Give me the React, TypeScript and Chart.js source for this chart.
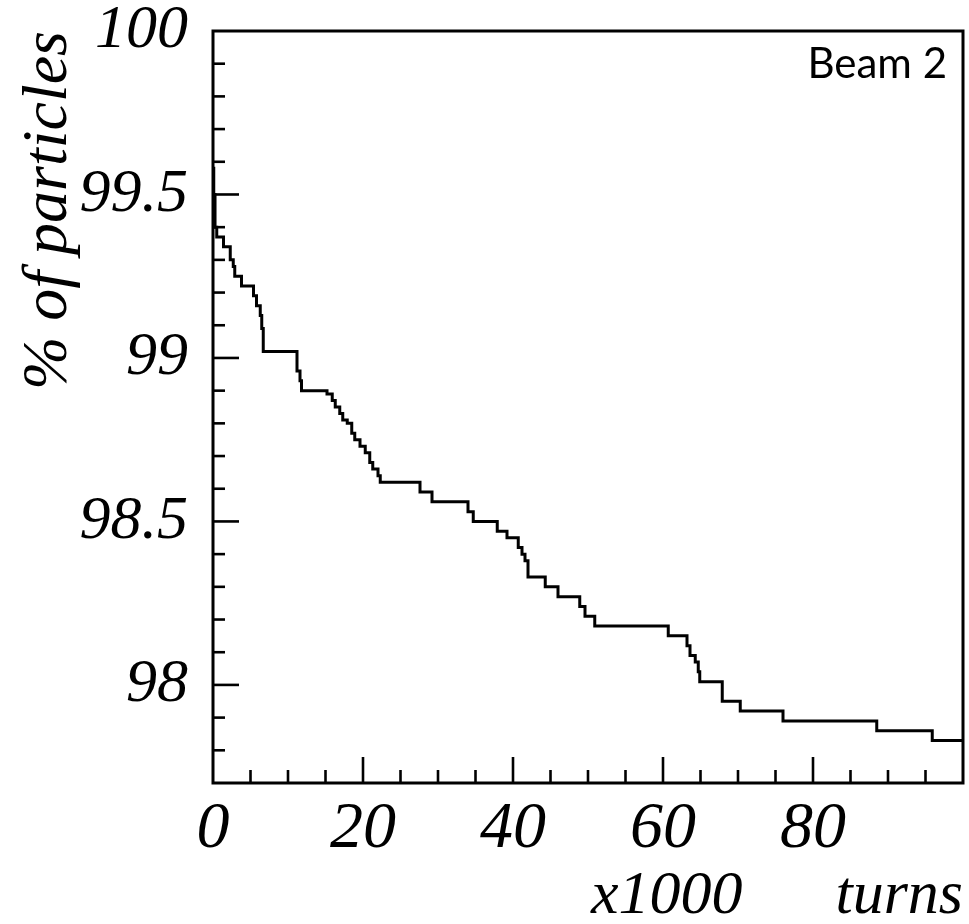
import React, { useEffect, useRef } from "react";
import { Chart, registerables } from "chart.js";

Chart.register(...registerables);

// Turns (x1000) at which the surviving fraction changes
const turnsK = [0, 0.1, 0.27, 0.5, 1.4, 2.3, 2.7, 2.9, 3.8, 5.4, 5.8, 6.3, 6.5, 6.7, 11.2, 11.6, 11.8, 15.2, 15.9, 16.3, 16.9, 17.3, 17.9, 18.5, 18.9, 19.6, 20.3, 20.9, 21.3, 22.0, 22.3, 27.6, 29.2, 34.0, 34.7, 37.9, 39.2, 40.7, 41.2, 41.6, 42.0, 44.3, 46.0, 48.9, 49.6, 50.9, 60.7, 63.2, 63.6, 64.3, 64.7, 64.9, 67.9, 70.3, 76.0, 88.5, 95.9, 100];
// % of particles remaining
const percent = [99.58, 99.5, 99.4, 99.37, 99.34, 99.3, 99.28, 99.25, 99.22, 99.19, 99.16, 99.13, 99.09, 99.02, 98.96, 98.93, 98.9, 98.89, 98.87, 98.85, 98.83, 98.81, 98.8, 98.77, 98.75, 98.73, 98.71, 98.68, 98.66, 98.64, 98.62, 98.59, 98.56, 98.53, 98.5, 98.47, 98.45, 98.42, 98.4, 98.38, 98.33, 98.3, 98.27, 98.24, 98.21, 98.18, 98.15, 98.12, 98.09, 98.07, 98.04, 98.01, 97.95, 97.92, 97.89, 97.86, 97.83, 97.83];

const xTickValues = [0, 20, 40, 60, 80];
const xTickLabels = ["0", "20", "40", "60", "80"];
const yTickValues = [98, 98.5, 99, 99.5, 100];
const yTickLabels = ["98", "98.5", "99", "99.5", "100"];
const xRange = [0, 100];
const yRange = [97.7, 100];
const xTitle = "x1000      turns";
const yTitle = "% of particles";
const beamLabel = "Beam 2";

const SERIF = "'Liberation Serif', 'Times New Roman', serif";

const framePlugin = {
  id: "frameTicks",
  afterDraw(chart: any) {
    const { ctx, chartArea } = chart;
    const xs = chart.scales.x;
    const ys = chart.scales.y;
    const { left, right, top, bottom } = chartArea;
    ctx.save();
    ctx.strokeStyle = "#000";
    ctx.lineWidth = 3;
    ctx.lineCap = "butt";
    ctx.beginPath();
    ctx.rect(left, top, right - left, bottom - top);
    ctx.stroke();
    // x ticks (inside, upward)
    ctx.lineWidth = 2.6;
    for (let v = xRange[0]; v < xRange[1] + 0.001; v += 5) {
      if (v <= xRange[0] || v >= xRange[1]) continue;
      const px = xs.getPixelForValue(v);
      const major = Math.abs(v % 20) < 0.001;
      const len = major ? 26 : 13;
      ctx.beginPath();
      ctx.moveTo(px, bottom);
      ctx.lineTo(px, bottom - len);
      ctx.stroke();
    }
    // y ticks (inside, rightward)
    for (let i = 1; i < 23; i++) {
      const v = yRange[0] + i * 0.1;
      if (v >= yRange[1] - 0.001) continue;
      const py = ys.getPixelForValue(v);
      const major = Math.abs(Math.round(v * 10) % 5) === 0;
      const len = major ? 26 : 12;
      ctx.beginPath();
      ctx.moveTo(left, py);
      ctx.lineTo(left + len, py);
      ctx.stroke();
    }
    // Beam label
    ctx.fillStyle = "#000";
    ctx.font = "42px Lato, 'Open Sans', sans-serif";
    ctx.textAlign = "right";
    ctx.textBaseline = "alphabetic";
    ctx.fillText(beamLabel, right - 16, top + 47);
    ctx.restore();
  },
};

export default function App() {
  const ref = useRef<HTMLCanvasElement | null>(null);

  useEffect(() => {
    if (!ref.current) return;
    const data = turnsK.map((x, i) => ({ x, y: percent[i] }));
    const chart = new Chart(ref.current, {
      type: "line",
      data: {
        datasets: [
          {
            data,
            borderColor: "#000",
            borderWidth: 3,
            pointRadius: 0,
            stepped: "before",
            fill: false,
          },
        ],
      },
      options: {
        responsive: false,
        animation: false,
        layout: { padding: { left: 0, top: 31, right: 6, bottom: 0 } },
        plugins: { legend: { display: false }, tooltip: { enabled: false } },
        scales: {
          x: {
            type: "linear",
            min: xRange[0],
            max: xRange[1],
            afterFit: (s: any) => {
              s.height = 141;
              s.paddingLeft = 0;
              s.paddingRight = 0;
            },
            afterBuildTicks: (s: any) => {
              s.ticks = xTickValues.map((v) => ({ value: v }));
            },
            grid: { display: false, drawTicks: false, tickLength: 0 },
            border: { display: false },
            ticks: {
              autoSkip: false,
              maxRotation: 0,
              padding: 7,
              color: "#000",
              font: { family: SERIF, size: 66, style: "italic" },
              callback: (v: any) => {
                const i = xTickValues.indexOf(Number(v));
                return i >= 0 ? xTickLabels[i] : "";
              },
            },
            title: {
              display: true,
              text: xTitle,
              align: "end",
              color: "#000",
              padding: { top: 0, bottom: -4 },
              font: { family: SERIF, size: 62, style: "italic", lineHeight: 1 },
            },
          },
          y: {
            type: "linear",
            min: yRange[0],
            max: yRange[1],
            afterFit: (s: any) => {
              s.width = 213;
              s.paddingTop = 0;
              s.paddingBottom = 0;
            },
            afterBuildTicks: (s: any) => {
              s.ticks = yTickValues.map((v) => ({ value: v }));
            },
            grid: { display: false, drawTicks: false, tickLength: 0 },
            border: { display: false },
            ticks: {
              autoSkip: false,
              padding: 25,
              color: "#000",
              font: { family: SERIF, size: 62, style: "italic" },
              callback: (v: any) => {
                const i = yTickValues.findIndex((t) => Math.abs(t - Number(v)) < 1e-6);
                return i >= 0 ? yTickLabels[i] : "";
              },
            },
            title: {
              display: true,
              text: yTitle,
              align: "end",
              color: "#000",
              padding: { top: 17, bottom: 0 },
              font: { family: SERIF, size: 64, style: "italic", lineHeight: 1 },
            },
          },
        },
      },
      plugins: [framePlugin],
    } as any);
    return () => chart.destroy();
  }, []);

  return (
    <div style={{ position: "fixed", left: 0, top: 0, width: 969, height: 924, background: "#fff" }}>
      <canvas ref={ref} width={969} height={924} style={{ width: 969, height: 924, display: "block" }} />
    </div>
  );
}
